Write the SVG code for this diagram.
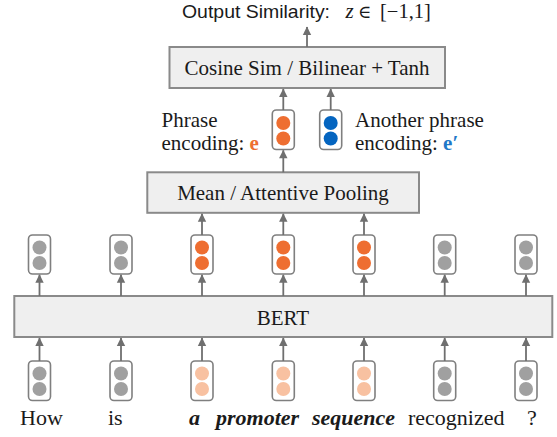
<svg xmlns="http://www.w3.org/2000/svg" width="557" height="437" viewBox="0 0 557 437">
<style>
.box{fill:#efefef;stroke:#8a8a8a;stroke-width:2}
.cell{fill:#ffffff;stroke:#7f7f7f;stroke-width:1.6}
.g{fill:#a0a0a0}
.o{fill:#ee6e31}
.lo{fill:#f8c1a1}
.b{fill:#0565c0}
.t{font-family:"Liberation Serif","Times New Roman",serif;font-size:21px;fill:#1a1a1a}
.w{font-size:22px}
.c{text-anchor:middle}
.bi{font-weight:bold;font-style:italic}
.arr{stroke:#6f6f6f;stroke-width:1.8;fill:none;marker-end:url(#ah)}
</style>
<defs>
<marker id="ah" markerUnits="userSpaceOnUse" markerWidth="10" markerHeight="10" viewBox="0 0 10 10" refX="9" refY="5" orient="auto">
<path d="M1,0.8 L9.5,5 L1,9.2 Z" fill="#6f6f6f"/>
</marker>
</defs>

<g id="title">
<text x="182" y="18" font-family="Liberation Sans,Arial,sans-serif" font-size="19" fill="#1a1a1a" textLength="148" lengthAdjust="spacingAndGlyphs">Output Similarity:</text>
<text x="345.5" y="18" font-family="Liberation Serif,serif" font-style="italic" font-size="21" fill="#1a1a1a">z</text>
<text x="358" y="18" font-family="DejaVu Serif,serif" font-size="18" fill="#1a1a1a">∈</text>
<text x="380" y="18" font-family="Liberation Serif,serif" font-size="20.5" fill="#1a1a1a">[−1,1]</text>
</g>

<g id="cosine">
<rect class="box" x="169.5" y="47" width="275.5" height="41"/>
<text class="t c" x="307" y="75">Cosine Sim / Bilinear + Tanh</text>
</g>

<g id="enc_e">
<rect class="cell" x="272.3" y="110" width="22" height="39.5" rx="4"/>
<circle class="o" cx="283.3" cy="123" r="7"/>
<circle class="o" cx="283.3" cy="138.5" r="7"/>
</g>
<g id="enc_e2">
<rect class="cell" x="319.7" y="110" width="22" height="39.5" rx="4"/>
<circle class="b" cx="330.7" cy="123" r="7"/>
<circle class="b" cx="330.7" cy="138.5" r="7"/>
</g>
<g id="label_e">
<text class="t" x="161.5" y="126.5">Phrase</text>
<text class="t" x="161.5" y="150">encoding: <tspan font-weight="bold" fill="#ee6e31">e</tspan></text>
</g>
<g id="label_e2">
<text class="t" x="355" y="126.5">Another phrase</text>
<text class="t" x="355" y="150">encoding: <tspan font-weight="bold" fill="#1f78c8">e′</tspan></text>
</g>

<g id="pooling">
<rect class="box" x="147.3" y="172.3" width="271.7" height="40.5"/>
<text class="t c" x="283" y="200">Mean / Attentive Pooling</text>
</g>

<g id="hidden">
<g id="h1"><rect class="cell" x="28.5" y="235" width="22" height="39" rx="4"/><circle class="g" cx="39.5" cy="247.5" r="7"/><circle class="g" cx="39.5" cy="263" r="7"/></g>
<g id="h2"><rect class="cell" x="110" y="235" width="22" height="39" rx="4"/><circle class="g" cx="121" cy="247.5" r="7"/><circle class="g" cx="121" cy="263" r="7"/></g>
<g id="h3"><rect class="cell" x="191" y="235" width="22" height="39" rx="4"/><circle class="o" cx="202" cy="247.5" r="7"/><circle class="o" cx="202" cy="263" r="7"/></g>
<g id="h4"><rect class="cell" x="272.3" y="235" width="22" height="39" rx="4"/><circle class="o" cx="283.3" cy="247.5" r="7"/><circle class="o" cx="283.3" cy="263" r="7"/></g>
<g id="h5"><rect class="cell" x="353" y="235" width="22" height="39" rx="4"/><circle class="o" cx="364" cy="247.5" r="7"/><circle class="o" cx="364" cy="263" r="7"/></g>
<g id="h6"><rect class="cell" x="433.7" y="235" width="22" height="39" rx="4"/><circle class="g" cx="444.7" cy="247.5" r="7"/><circle class="g" cx="444.7" cy="263" r="7"/></g>
<g id="h7"><rect class="cell" x="515" y="235" width="22" height="39" rx="4"/><circle class="g" cx="526" cy="247.5" r="7"/><circle class="g" cx="526" cy="263" r="7"/></g>
</g>

<g id="bert">
<rect class="box" x="14.3" y="296" width="538" height="41"/>
<text class="t c" x="283" y="325">BERT</text>
</g>

<g id="inputs">
<g id="x1"><rect class="cell" x="28.5" y="361" width="22" height="39.5" rx="4"/><circle class="g" cx="39.5" cy="373.5" r="7"/><circle class="g" cx="39.5" cy="389" r="7"/></g>
<g id="x2"><rect class="cell" x="110" y="361" width="22" height="39.5" rx="4"/><circle class="g" cx="121" cy="373.5" r="7"/><circle class="g" cx="121" cy="389" r="7"/></g>
<g id="x3"><rect class="cell" x="191" y="361" width="22" height="39.5" rx="4"/><circle class="lo" cx="202" cy="373.5" r="7"/><circle class="lo" cx="202" cy="389" r="7"/></g>
<g id="x4"><rect class="cell" x="272.3" y="361" width="22" height="39.5" rx="4"/><circle class="lo" cx="283.3" cy="373.5" r="7"/><circle class="lo" cx="283.3" cy="389" r="7"/></g>
<g id="x5"><rect class="cell" x="353" y="361" width="22" height="39.5" rx="4"/><circle class="lo" cx="364" cy="373.5" r="7"/><circle class="lo" cx="364" cy="389" r="7"/></g>
<g id="x6"><rect class="cell" x="433.7" y="361" width="22" height="39.5" rx="4"/><circle class="g" cx="444.7" cy="373.5" r="7"/><circle class="g" cx="444.7" cy="389" r="7"/></g>
<g id="x7"><rect class="cell" x="515" y="361" width="22" height="39.5" rx="4"/><circle class="g" cx="526" cy="373.5" r="7"/><circle class="g" cx="526" cy="389" r="7"/></g>
</g>

<g id="words">
<text class="t w" x="20" y="425">How</text>
<text class="t w" x="108" y="425">is</text>
<text class="t w bi" x="189" y="425">a</text>
<text class="t w bi" x="216" y="425">promoter</text>
<text class="t w bi" x="312" y="425">sequence</text>
<text class="t w" x="408" y="425">recognized</text>
<text class="t w" x="527" y="425">?</text>
</g>

<g id="connectors">
<path class="arr" d="M307,47 V27"/>
<path class="arr" d="M283.3,110 V89"/>
<path class="arr" d="M330.7,110 V89"/>
<path class="arr" d="M283.3,172.3 V150.3"/>
<path class="arr" d="M202,235 V213.8"/>
<path class="arr" d="M283.3,235 V213.8"/>
<path class="arr" d="M364,235 V213.8"/>
<path class="arr" d="M39.5,296 V274.8"/>
<path class="arr" d="M121,296 V274.8"/>
<path class="arr" d="M202,296 V274.8"/>
<path class="arr" d="M283.3,296 V274.8"/>
<path class="arr" d="M364,296 V274.8"/>
<path class="arr" d="M444.7,296 V274.8"/>
<path class="arr" d="M526,296 V274.8"/>
<path class="arr" d="M39.5,361 V338"/>
<path class="arr" d="M121,361 V338"/>
<path class="arr" d="M202,361 V338"/>
<path class="arr" d="M283.3,361 V338"/>
<path class="arr" d="M364,361 V338"/>
<path class="arr" d="M444.7,361 V338"/>
<path class="arr" d="M526,361 V338"/>
</g>
</svg>
